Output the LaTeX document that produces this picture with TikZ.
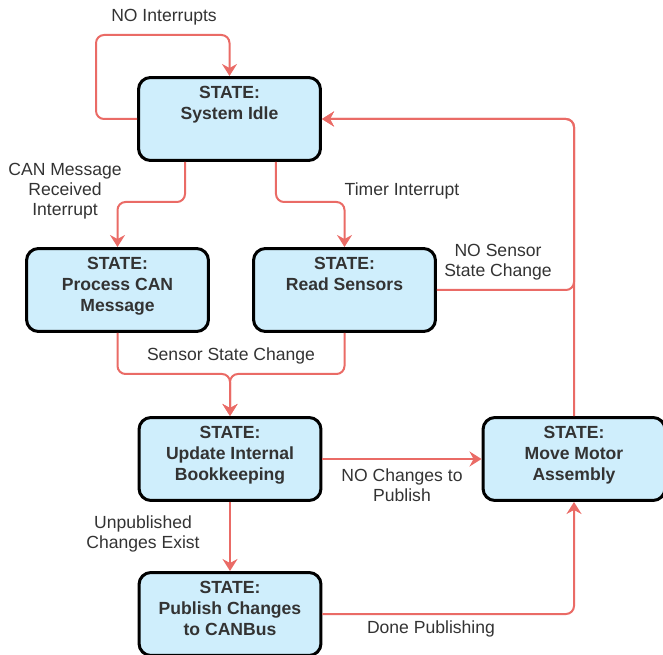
\documentclass[tikz,border=0pt]{standalone}
\usepackage{fontspec}
\setmainfont{Liberation Sans}
\usetikzlibrary{arrows.meta}
\definecolor{statefill}{RGB}{207,238,252}
\definecolor{edgered}{RGB}{234,107,102}
\definecolor{txtgray}{RGB}{51,51,51}

\begin{document}
\begin{tikzpicture}[
        x=0.02cm, y=-0.02cm,
        thick,
        font=\fontsize{10pt}{11.5pt}\selectfont,
        text=txtgray
    ]
    \tikzset{
        state/.style = {rectangle, rounded corners=0.24cm, draw=black, line width=0.06cm, fill=statefill, minimum width=3.64cm, minimum height=1.66cm},
        statetxt/.style = {anchor=north, yshift=-0.19cm, inner sep=0pt, align=center, font=\fontsize{10pt}{12pt}\selectfont\bfseries, text=txtgray},
        edgen/.style = {-{Stealth[length=0.24cm,width=0.3cm,inset=0.08cm]}, line width=0.04cm, edgered, rounded corners=0.16cm},
        lbl/.style = {align=center, inner sep=0pt},
    }
    \useasboundingbox (0,0) rectangle (663,655);
    \node[state, label={[statetxt,name=idlet]north:{STATE:\\System Idle}}] at (229.5,119) (idle) {};
    \node[state, label={[statetxt,name=proct]north:{STATE:\\Process CAN\\Message}}] at (117.5,290) (proc) {};
    \node[state, label={[statetxt,name=readt]north:{STATE:\\Read Sensors}}] at (344.5,290) (read) {};
    \node[state, label={[statetxt,name=updt]north:{STATE:\\Update Internal\\Bookkeeping}}] at (230,459) (upd) {};
    \node[state, label={[statetxt,name=movet]north:{STATE:\\Move Motor\\Assembly}}] at (574,459) (move) {};
    \node[state, label={[statetxt,name=pubt]north:{STATE:\\Publish Changes\\to CANBus}}] at (230,614) (pub) {};
    %
    \draw[edgen] (idle.west) -- ++(-41,0) -- ++(0,-84) -| (idle.north);
    \draw[edgen] ([xshift=-0.89cm]idle.south) -- ++(0,40) -| (proc.north);
    \draw[edgen] ([xshift=0.93cm]idle.south) -- ++(0,40) -| (read.north);
    \draw[edgen] (read.east) -| (move.north |- idle.east) -- (idle.east);
    \draw[edgen] (move.north) |- (idle.east);
    %
    \draw[edgen] (proc.south) -- ++(0,41) -| (upd.north);
    \draw[edgen] (read.south) -- ++(0,41) -| (upd.north);
    \draw[edgen] (upd.east) -- (move.west);
    \draw[edgen] (upd.south) -- (pub.north);
    \draw[edgen] (pub.east) -| (move.south);
    %
    \node[lbl] at (164,17) (lnoint) {NO Interrupts};
    \node[lbl] at (65,191) (lcan) {CAN Message\\Received\\Interrupt};
    \node[lbl] at (402,191) (ltimer) {Timer Interrupt};
    \node[lbl] at (498,262) (lnosens) {NO Sensor\\State Change};
    \node[lbl] at (231,356) (lsens) {Sensor State Change};
    \node[lbl] at (402,485) (lnochg) {NO Changes to\\Publish};
    \node[lbl] at (143,534) (lunpub) {Unpublished\\Changes Exist};
    \node[lbl] at (431,629) (ldone) {Done Publishing};
\end{tikzpicture}
\end{document}
